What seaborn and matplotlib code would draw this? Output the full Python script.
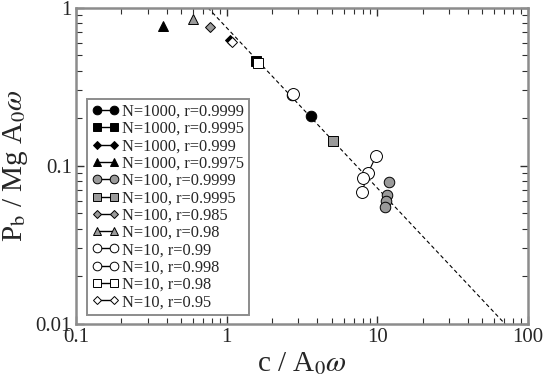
import numpy as np
import pandas as pd
import matplotlib
matplotlib.use("Agg")
import matplotlib.pyplot as plt
from matplotlib.lines import Line2D
from matplotlib.ticker import LogLocator, NullFormatter, FixedFormatter, FixedLocator
import seaborn as sns

# data (c / A0 w , Pb / Mg A0 w)
labels = ['N=1000, r=0.9999', 'N=1000, r=0.9995', 'N=1000, r=0.999', 'N=1000, r=0.9975',
          'N=100, r=0.9999', 'N=100, r=0.9995', 'N=100, r=0.985', 'N=100, r=0.98',
          'N=10, r=0.99', 'N=10, r=0.998', 'N=10, r=0.98', 'N=10, r=0.95']
c_vals = [[3.61], [1.57], [1.05], [0.38],
          [2.70, 8.75, 12.0, 11.6, 11.4, 11.3], [5.06], [0.776], [0.598],
          [9.82, 8.69, 7.93], [2.76, 8.05], [1.61], [1.09]]
p_vals = [[0.206], [0.461], [0.623], [0.764],
          [0.280, 0.090, 0.0789, 0.0653, 0.0599, 0.0548], [0.144], [0.753], [0.845],
          [0.115, 0.090, 0.0683], [0.284, 0.0837], [0.446], [0.605]]
markers = ['o', 's', 'D', '^', 'o', 's', 'D', '^', 'o', 'o', 's', 'D']
faces = ['black'] * 4 + ['#9a9a9a'] * 4 + ['white'] * 4
sizes = [7.6, 7, 5.5, 7.5, 7.6, 7, 5.5, 7.5, 8.6, 8.6, 7, 5.5]
joined = [False] * 8 + [True] + [False] * 3

fit_c = [0.75, 70.6]
fit_p = [1.0, 0.01]

sns.set_style("ticks")
plt.rcParams['font.family'] = ['Liberation Serif', 'DejaVu Serif']
plt.rcParams['mathtext.fontset'] = 'stix'

fig = plt.figure(figsize=(5.43, 3.82), dpi=100)
ax = fig.add_axes([0.140, 0.152, 0.832, 0.828])

sns.lineplot(x=fit_c, y=fit_p, ax=ax, color='black', lw=0.8, linestyle=(0, (3.5, 2.5)),
             sort=False, estimator=None)

handles = []
for lab, cs, ps, m, fc, ms, jn in zip(labels, c_vals, p_vals, markers, faces, sizes, joined):
    df = pd.DataFrame({'c': cs, 'P': ps})
    sns.lineplot(data=df, x='c', y='P', ax=ax, sort=False, estimator=None,
                 color='black', lw=0.8, linestyle='-' if jn else '',
                 marker=m, markersize=ms, markerfacecolor=fc,
                 markeredgecolor='black', markeredgewidth=0.7)
    handles.append(Line2D([], [], color='black', lw=1.0, marker=m,
                          markersize=min(ms, 7.6) * 0.82, markerfacecolor=fc,
                          markeredgecolor='black', markeredgewidth=0.7, label=lab))

ax.set_xscale('log')
ax.set_yscale('log')
ax.set_xlim(0.1, 100)
ax.set_ylim(0.01, 1)

ax.xaxis.set_major_locator(FixedLocator([0.1, 1, 10, 100]))
ax.xaxis.set_major_formatter(FixedFormatter(['0.1', '1', '10', '100']))
ax.yaxis.set_major_locator(FixedLocator([0.01, 0.1, 1]))
ax.yaxis.set_major_formatter(FixedFormatter(['0.01', '0.1', '1']))
ax.xaxis.set_minor_locator(LogLocator(base=10, subs=np.arange(2, 10)))
ax.yaxis.set_minor_locator(LogLocator(base=10, subs=np.arange(2, 10)))
ax.xaxis.set_minor_formatter(NullFormatter())
ax.yaxis.set_minor_formatter(NullFormatter())

ax.tick_params(which='both', direction='in', top=True, right=True, color='#303030')
ax.tick_params(which='major', length=6, width=1.0, labelsize=15, pad=3)
ax.tick_params(which='minor', length=4, width=0.8)

for sp in ax.spines.values():
    sp.set_color('#8c8c8c')
    sp.set_linewidth(1.8)

ax.set_xlabel(r'c / A$_0\omega$', fontsize=21, labelpad=2)
ax.set_ylabel(r'P$_\mathrm{b}$ / Mg A$_0\omega$', fontsize=21, labelpad=4)

leg = ax.legend(handles=handles, loc='lower left', bbox_to_anchor=(0.024, 0.028),
                borderaxespad=0, fontsize=11.8, numpoints=2, handlelength=1.65,
                handletextpad=0.2, labelspacing=0.08, borderpad=0.3,
                fancybox=False, framealpha=1)
leg.get_frame().set_edgecolor('#8c8c8c')
leg.get_frame().set_linewidth(1.4)

fig.savefig('out.png', dpi=100)
